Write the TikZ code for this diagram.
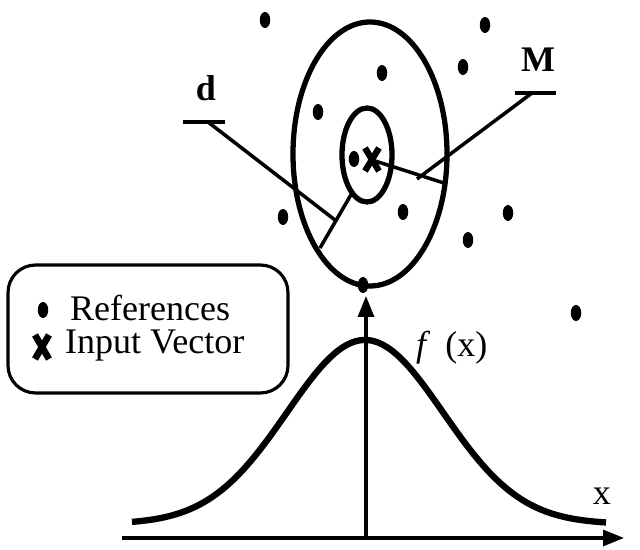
\documentclass[tikz,border=0pt]{standalone}
\usepackage{fontspec}
\setmainfont{Liberation Serif}
\usetikzlibrary{arrows.meta,positioning,shapes.geometric}

\begin{document}
\begin{tikzpicture}[x=0.02cm, y=-0.02cm,
  refdot/.style={fill=black, ellipse, inner sep=0pt, minimum width=0.21cm, minimum height=0.32cm},
  ring/.style={line width=3pt},
  pointer/.style={line width=2pt},
  axis/.style={line width=1.8pt, -{Triangle[length=0.42cm, width=0.32cm]}},
  curve/.style={line width=3.6pt},
  lbl/.style={font=\fontsize{20.5}{24}\selectfont},
  tag/.style={font=\fontsize{20.5}{24}\selectfont\bfseries}
]
\useasboundingbox (0,0) rectangle (640,550);

% receptive field
\draw[ring] (370,154) ellipse [x radius=77, y radius=132];
\draw[ring] (367,155) ellipse [x radius=25, y radius=47];

% references
\foreach \p in {(265,20),(485,25),(463,67),(382,73),(318,112),(283,217),
                (403,212),(508,213),(468,240),(363,285),(576,313),(354,159)}
  \node[refdot] at \p {};

% input vector
\coordinate (centre) at (372,160);
\draw[line width=3.6pt] (365,148) -- (379,171) (379,148) -- (365,171);

% radii
\coordinate (dinner) at (352,193);
\coordinate (douter) at (320,248);
\coordinate (mouter) at (447,184);
\draw[pointer] (dinner) -- (douter);
\draw[pointer] (centre) -- (mouter);

% labels d and M
\node[tag] (dlabel) at (206,88) {d};
\coordinate (dbarw) at (183,122);
\coordinate (dbare) at (225,122);
\coordinate (dtip) at (335,220);
\draw[pointer] (dbarw) -- (dbare);
\draw[pointer] (208,122) -- (dtip);

\node[tag] (mlabel) at (538,60) {M};
\coordinate (mbarw) at (515,93);
\coordinate (mbare) at (556,93);
\coordinate (mtip) at (417,179);
\draw[pointer] (mbarw) -- (mbare);
\draw[pointer] (532,93) -- (mtip);

% legend
\node[draw, line width=1.8pt, rounded corners=0.55cm, minimum width=5.6cm, minimum height=2.56cm] (legend) at (148,329) {};
\node[refdot] (legdot) at (43,310) {};
\node[lbl, anchor=west] (legref) at (64,308) {References};
\draw[line width=3.8pt] (35,335) -- (49,359) (49,335) -- (35,359);
\node[lbl, anchor=west] (leginp) at (59,346) {Input Vector};

% activation function
\coordinate (xstart) at (122,538);
\coordinate (xend) at (624,538);
\coordinate (origin) at (366,538);
\coordinate (ytop) at (366,296);
\draw[axis] (xstart) -- (xend);
\draw[axis] (origin) -- (ytop);
\draw[curve] plot[domain=132:606, samples=90, smooth]
  (\x, {524-184*exp(-0.5*((\x-365)/78)^2)});
\node[lbl, anchor=west] (fx) at (410,348) {\textit{f}\, (x)};
\node[lbl] (xlabel) at (602,496) {x};
\end{tikzpicture}
\end{document}
